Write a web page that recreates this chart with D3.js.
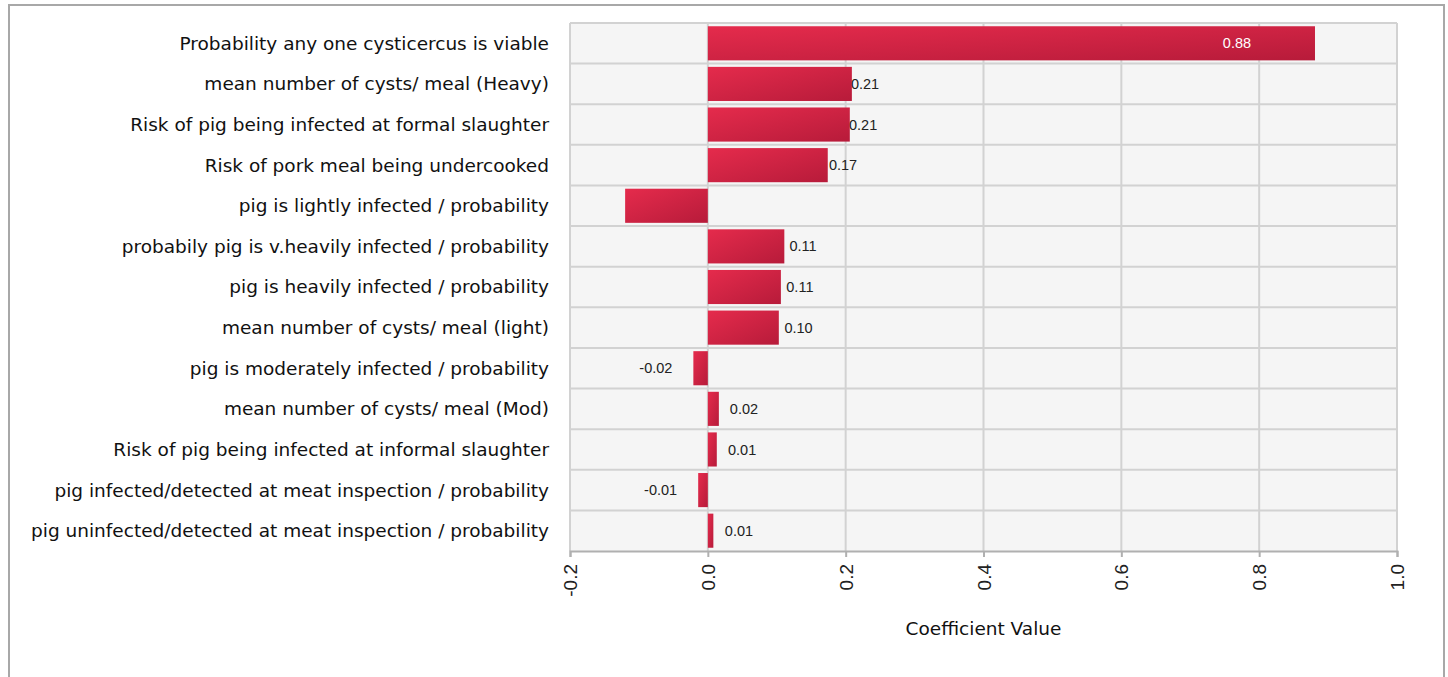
<!DOCTYPE html>
<html>
<head>
<meta charset="utf-8">
<style>
  body { margin: 0; background: #fff; }
  .cat { font-family: "DejaVu Sans", sans-serif; font-size: 18.5px; fill: #111; }
  .val { font-family: "Liberation Sans", Arial, sans-serif; font-size: 14.5px; fill: #222; }
  .tick text { font-family: "Liberation Sans", Arial, sans-serif; font-size: 19px; fill: #222; }
  .title { font-family: "DejaVu Sans", sans-serif; font-size: 18.5px; fill: #111; }
</style>
<title>Coefficient chart</title>
</head>
<body>
<script src="https://cdn.jsdelivr.net/npm/d3@7"></script>
<script>

var categories = [
  "Probability any one cysticercus is viable",
  "mean number of cysts/ meal (Heavy)",
  "Risk of pig being infected at formal slaughter",
  "Risk of pork meal being undercooked",
  "pig is lightly infected / probability",
  "probabily pig is v.heavily infected / probability",
  "pig is heavily infected / probability",
  "mean number of cysts/ meal (light)",
  "pig is moderately infected / probability",
  "mean number of cysts/ meal (Mod)",
  "Risk of pig being infected at informal slaughter",
  "pig infected/detected at meat inspection / probability",
  "pig uninfected/detected at meat inspection / probability"
];
var values = [0.881, 0.209, 0.206, 0.174, -0.12, 0.111, 0.106, 0.103, -0.021, 0.016, 0.013, -0.014, 0.008];
var labels = ["0.88", "0.21", "0.21", "0.17", "", "0.11", "0.11", "0.10", "-0.02", "0.02", "0.01", "-0.01", "0.01"];
var xTicks = [-0.2, 0.0, 0.2, 0.4, 0.6, 0.8, 1.0];

var W = 1448, H = 677;
var margin = {top: 23, right: 51, bottom: 126, left: 570};
var width = W - margin.left - margin.right;
var height = H - margin.top - margin.bottom;

var svg = d3.select("body").append("svg")
  .attr("width", W)
  .attr("height", H);

// outer frame
svg.append("rect")
  .attr("x", 9).attr("y", 5)
  .attr("width", 1435).attr("height", 700)
  .attr("fill", "none")
  .attr("stroke", "#a8a8a8")
  .attr("stroke-width", 2);

var defs = svg.append("defs");
var grad = defs.append("linearGradient")
  .attr("id", "barGrad")
  .attr("x1", "0%").attr("y1", "0%")
  .attr("x2", "100%").attr("y2", "100%");
grad.append("stop").attr("offset", "0%").attr("stop-color", "#e52b4c");
grad.append("stop").attr("offset", "100%").attr("stop-color", "#b71b3a");

var g = svg.append("g")
  .attr("transform", "translate(" + margin.left + "," + margin.top + ")");

var x = d3.scaleLinear().domain([-0.2, 1.0]).range([0, width]);
var y = d3.scaleBand().domain(categories).range([0, height]).paddingInner(0.16).paddingOuter(0.08);
var rows = d3.scaleBand().domain(categories).range([0, height]);

g.append("rect")
  .attr("width", width).attr("height", height)
  .attr("fill", "#f5f5f5");

// vertical grid
g.selectAll(".vgrid").data(xTicks).enter()
  .append("line")
  .attr("x1", function(d){ return x(d); })
  .attr("x2", function(d){ return x(d); })
  .attr("y1", 0).attr("y2", height)
  .attr("stroke", "#d2d2d2").attr("stroke-width", 2);

// row separators
g.selectAll(".hgrid").data(categories).enter()
  .append("line")
  .attr("x1", 0).attr("x2", width)
  .attr("y1", function(d){ return rows(d); })
  .attr("y2", function(d){ return rows(d); })
  .attr("stroke", "#d2d2d2").attr("stroke-width", 2);

// bars
g.selectAll(".bar").data(values).enter()
  .append("rect")
  .attr("x", function(d){ return x(Math.min(0, d)); })
  .attr("y", function(d, i){ return y(categories[i]); })
  .attr("width", function(d){ return Math.abs(x(d) - x(0)); })
  .attr("height", y.bandwidth())
  .attr("fill", "url(#barGrad)");

// value labels
g.selectAll(".val").data(values).enter()
  .append("text")
  .attr("class", "val")
  .attr("y", function(d, i){ return y(categories[i]) + y.bandwidth() / 2; })
  .attr("dy", "0.35em")
  .attr("x", function(d, i){
    var w = Math.abs(x(d) - x(0));
    if (i === 0) return x(d) - 78;
    if (d < 0) return x(d) - 21;
    return x(d) + 12 - w * 0.09;
  })
  .attr("text-anchor", function(d, i){
    if (i === 0) return "middle";
    return d < 0 ? "end" : "start";
  })
  .style("fill", function(d, i){ return i === 0 ? "#fff" : "#222"; })
  .text(function(d, i){ return labels[i]; });

// category labels
g.selectAll(".cat").data(categories).enter()
  .append("text")
  .attr("class", "cat")
  .attr("x", -21)
  .attr("y", function(d){ return rows(d) + rows.bandwidth() / 2; })
  .attr("dy", "0.35em")
  .attr("text-anchor", "end")
  .text(function(d){ return d; });

// x axis
var xAxis = g.append("g")
  .attr("transform", "translate(0," + height + ")")
  .call(d3.axisBottom(x).tickValues(xTicks)
    .tickFormat(function(d){ return d3.format(".1f")(d).replace("\u2212", "-"); })
    .tickSize(6));
xAxis.select(".domain").attr("stroke", "#b0b0b0").attr("stroke-width", 2);
xAxis.selectAll(".tick line").attr("stroke", "#b0b0b0").attr("stroke-width", 2);
xAxis.selectAll(".tick text")
  .attr("transform", "rotate(-90)")
  .attr("text-anchor", "end")
  .attr("x", -13)
  .attr("y", 0)
  .attr("dy", "0.35em");

g.append("text")
  .attr("class", "title")
  .attr("x", x(0.4))
  .attr("y", height + 84)
  .attr("text-anchor", "middle")
  .text("Coefficient Value");

</script>
</body>
</html>
